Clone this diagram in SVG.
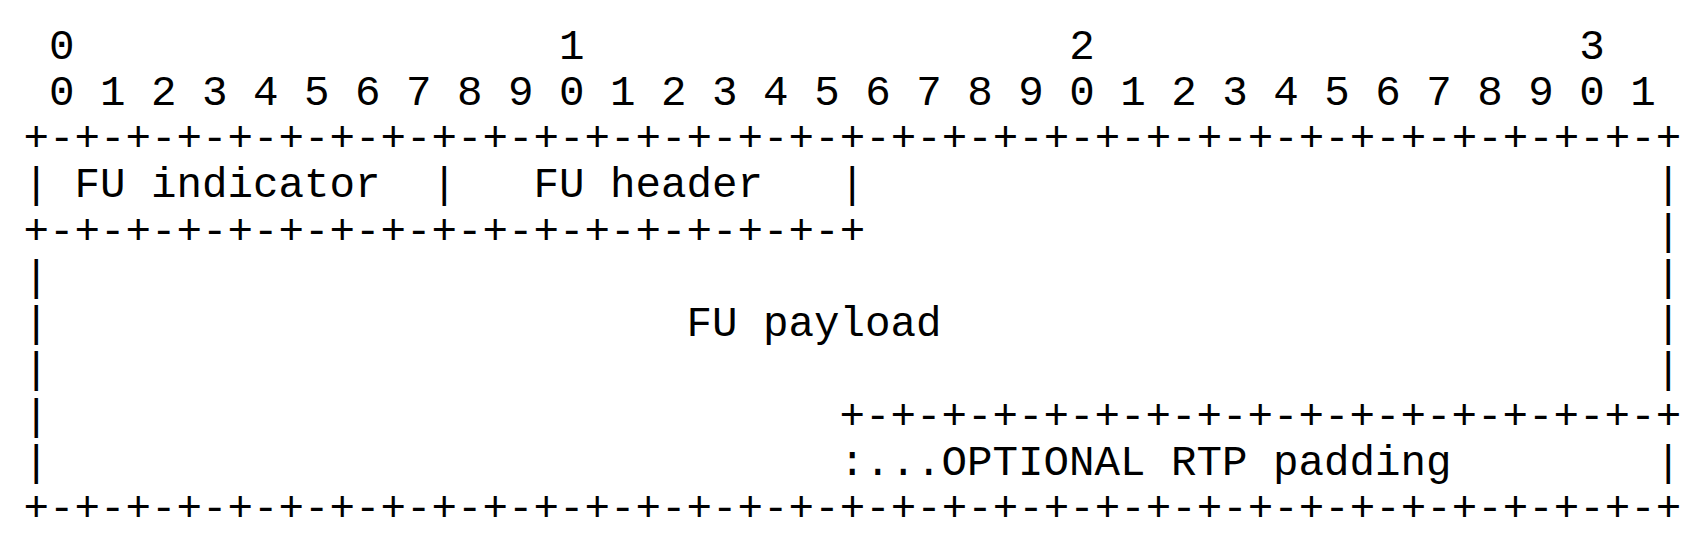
<svg xmlns="http://www.w3.org/2000/svg" width="1696" height="552" viewBox="0 0 1696 552">
<style>
.t{font-family:"Liberation Mono","DejaVu Sans Mono",monospace;font-size:42.5px;fill:#000;white-space:pre}
</style>
<rect width="1696" height="552" fill="#fff"/>
<g id="bit-ruler">
<text class="t" x="23.5" y="58.5" xml:space="preserve"> 0                   1                   2                   3</text>
<text class="t" x="23.5" y="104.75" xml:space="preserve"> 0 1 2 3 4 5 6 7 8 9 0 1 2 3 4 5 6 7 8 9 0 1 2 3 4 5 6 7 8 9 0 1</text>
</g>
<g id="connectors">
<text class="t" x="23.5" y="151">+-+-+-+-+-+-+-+-+-+-+-+-+-+-+-+-+-+-+-+-+-+-+-+-+-+-+-+-+-+-+-+-+</text>
<text class="t" x="23.5" y="197.25">|</text>
<text class="t" x="431.5" y="197.25">|</text>
<text class="t" x="839.5" y="197.25">|</text>
<text class="t" x="1655.5" y="197.25">|</text>
<text class="t" x="23.5" y="243.5">+-+-+-+-+-+-+-+-+-+-+-+-+-+-+-+-+</text>
<text class="t" x="1655.5" y="243.5">|</text>
<text class="t" x="23.5" y="289.75">|</text>
<text class="t" x="1655.5" y="289.75">|</text>
<text class="t" x="23.5" y="336">|</text>
<text class="t" x="1655.5" y="336">|</text>
<text class="t" x="23.5" y="382.25">|</text>
<text class="t" x="1655.5" y="382.25">|</text>
<text class="t" x="23.5" y="428.5">|</text>
<text class="t" x="839.5" y="428.5">+-+-+-+-+-+-+-+-+-+-+-+-+-+-+-+-+</text>
<text class="t" x="23.5" y="474.75">|</text>
<text class="t" x="1655.5" y="474.75">|</text>
<text class="t" x="23.5" y="521">+-+-+-+-+-+-+-+-+-+-+-+-+-+-+-+-+-+-+-+-+-+-+-+-+-+-+-+-+-+-+-+-+</text>
</g>
<g id="fu-indicator"><text class="t" x="74.5" y="197.25">FU indicator</text></g>
<g id="fu-header"><text class="t" x="533.5" y="197.25">FU header</text></g>
<g id="fu-payload"><text class="t" x="686.5" y="336">FU payload</text></g>
<g id="rtp-padding"><text class="t" x="839.5" y="474.75">:...OPTIONAL RTP padding</text></g>
</svg>
